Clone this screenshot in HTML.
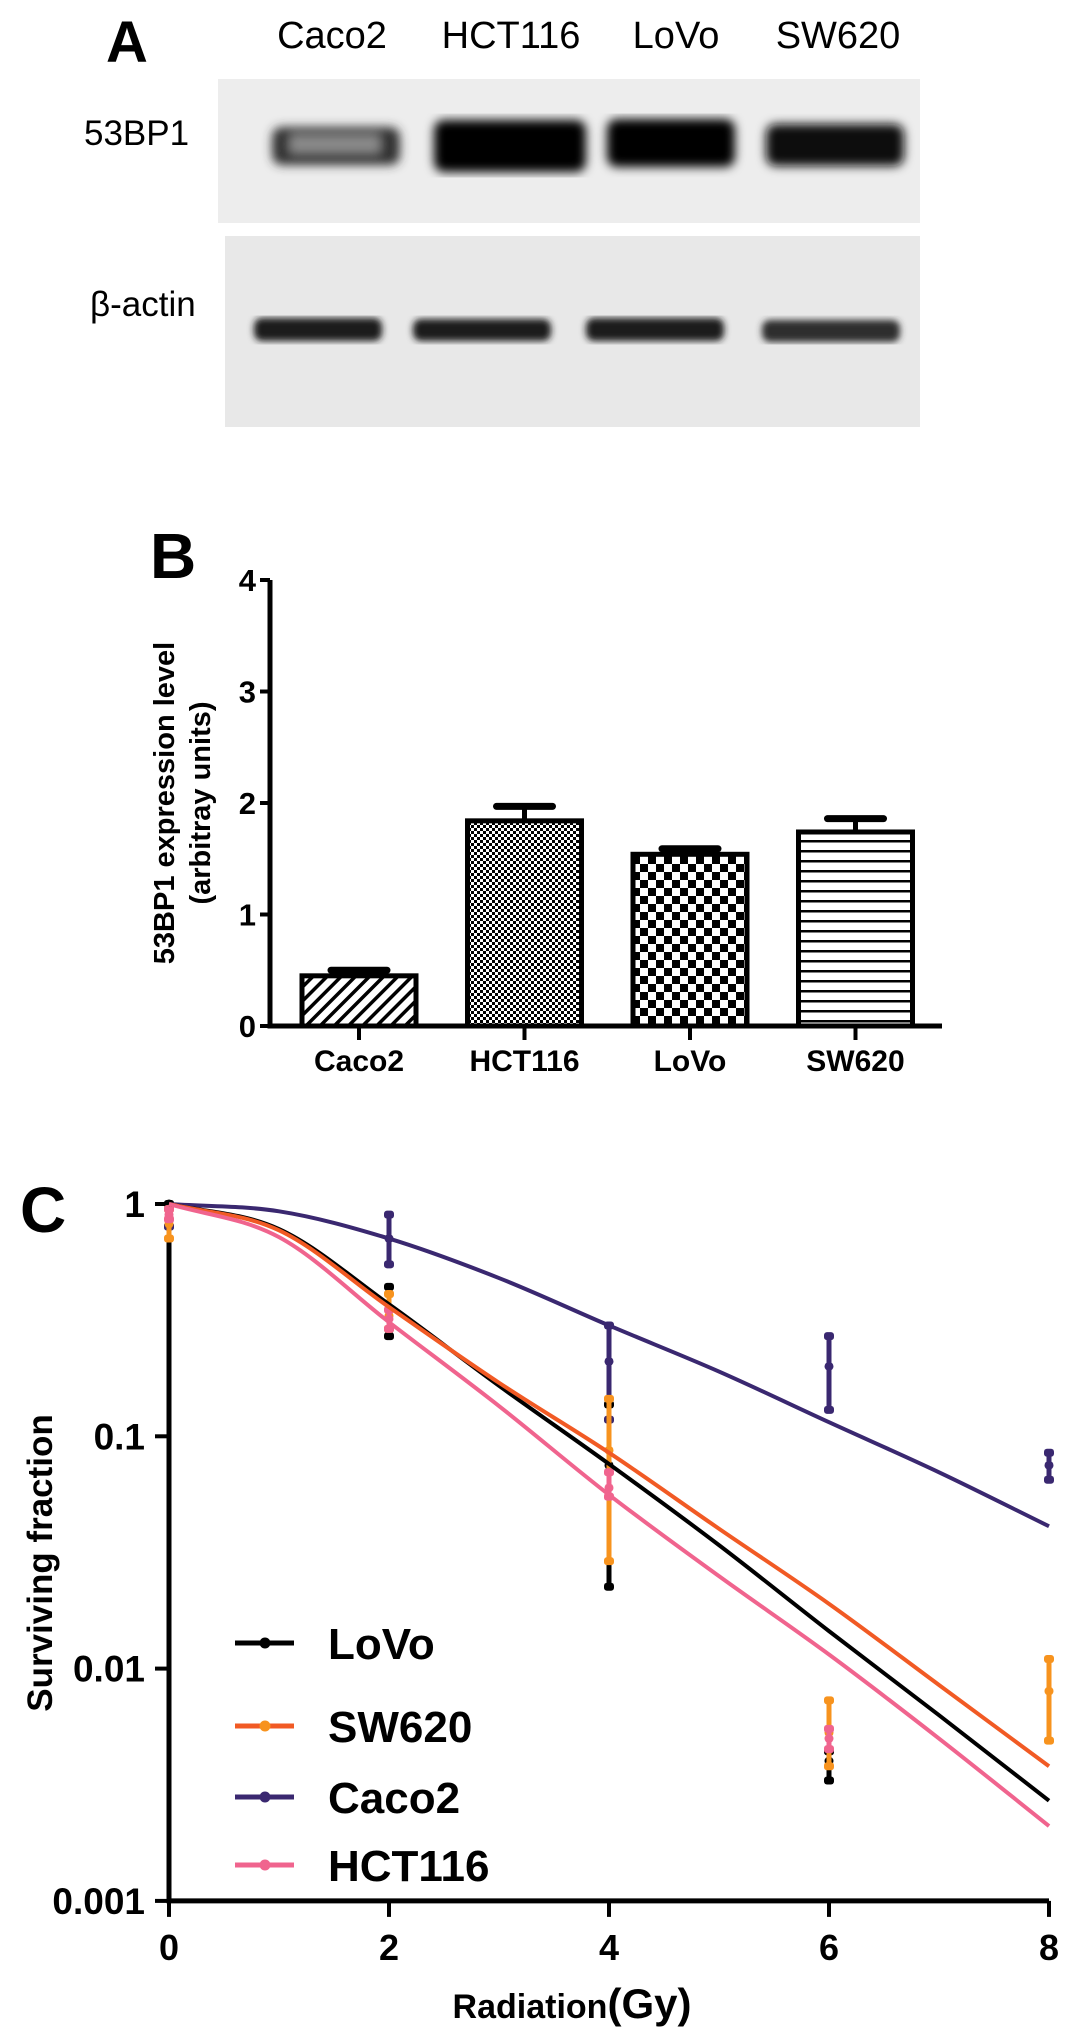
<!DOCTYPE html>
<html><head><meta charset="utf-8"><style>
html,body{margin:0;padding:0;background:#fff;}
svg{display:block;font-family:"Liberation Sans",Arial,sans-serif;}
</style></head><body>
<svg id="fig" width="1084" height="2034" viewBox="0 0 1084 2034">
<defs>
<filter id="blur4"><feGaussianBlur stdDeviation="5"/></filter>
<filter id="blur3"><feGaussianBlur stdDeviation="3.5"/></filter>
<pattern id="pDiag" width="10" height="10" patternUnits="userSpaceOnUse" patternTransform="rotate(45)"><rect width="10" height="10" fill="#fff"/><rect width="3.5" height="10" fill="#000"/></pattern>
<pattern id="pFine" width="6" height="6" patternUnits="userSpaceOnUse"><rect width="6" height="6" fill="#fff"/><rect width="3" height="3" fill="#000"/><rect x="3" y="3" width="3" height="3" fill="#000"/></pattern>
<pattern id="pCheck" width="16" height="16" patternUnits="userSpaceOnUse"><rect width="16" height="16" fill="#fff"/><rect width="8" height="8" fill="#000"/><rect x="8" y="8" width="8" height="8" fill="#000"/></pattern>
<pattern id="pHoriz" width="10" height="10" patternUnits="userSpaceOnUse"><rect width="10" height="10" fill="#fff"/><rect width="10" height="2.5" fill="#000"/></pattern>
</defs>

<!-- Panel A -->
<g>
<text x="106" y="62" font-size="58" font-weight="bold">A</text>
<g font-size="38">
<text x="332" y="48" text-anchor="middle">Caco2</text>
<text x="511" y="48" text-anchor="middle">HCT116</text>
<text x="676" y="48" text-anchor="middle">LoVo</text>
<text x="838" y="48" text-anchor="middle">SW620</text>
</g>
<text x="84" y="145" font-size="35">53BP1</text>
<text x="90" y="316" font-size="35">β-actin</text>
<rect x="218" y="79" width="702" height="144" fill="#ededed"/>
<g filter="url(#blur4)">
<rect x="272" y="127" width="128" height="38" rx="10" fill="#333"/>
<rect x="290" y="135" width="90" height="18" fill="#8a8a8a"/>
<rect x="434" y="120" width="152" height="52" rx="10" fill="#050505"/>
<rect x="607" y="119" width="128" height="48" rx="10" fill="#050505"/>
<rect x="766" y="124" width="138" height="42" rx="10" fill="#0a0a0a"/>
</g>
<rect x="225" y="236" width="695" height="191" fill="#e8e8e8"/>
<g filter="url(#blur3)">
<rect x="254" y="318" width="128" height="23" rx="8" fill="#1a1a1a"/>
<rect x="413" y="319" width="138" height="22" rx="8" fill="#1f1f1f"/>
<rect x="586" y="318" width="138" height="23" rx="8" fill="#1a1a1a"/>
<rect x="762" y="320" width="138" height="22" rx="8" fill="#2e2e2e"/>
</g>
</g>

<g id="panelB"></g>
<g id="panelC"></g>
</svg>
<script>
// ===== Panel B data =====
const barCategories = ["Caco2","HCT116","LoVo","SW620"];
const barValues = [0.45, 1.84, 1.54, 1.74];
const barErrors = [0.05, 0.13, 0.05, 0.12];
const barYTicks = [0,1,2,3,4];

// ===== Panel C data =====
const doseTicks = [0,2,4,6,8];
const sfTicks = [1,0.1,0.01,0.001];
const sfTickLabels = ["1","0.1","0.01","0.001"];
const seriesNames = ["LoVo","SW620","Caco2","HCT116"];
const fitDoses = [0,1,2,3,4,5,6,7,8];
const fitLoVo   = [1,0.78,0.37,0.165,0.076,0.034,0.0145,0.0063,0.0027];
const fitSW620  = [1,0.77,0.36,0.17,0.085,0.040,0.019,0.0085,0.0038];
const fitCaco2  = [1,0.93,0.71,0.48,0.30,0.19,0.115,0.07,0.041];
const fitHCT116 = [1,0.72,0.31,0.135,0.056,0.025,0.0115,0.005,0.0021];
// measured points: dose, mean, low, high
const ptDoseLoVo = [0,2,4,6];   const ptMeanLoVo = [1,0.35,0.075,0.004];  const ptLowLoVo = [1,0.27,0.0225,0.0033]; const ptHighLoVo = [1,0.44,0.137,0.0044];
const ptDoseSW620 = [0,2,4,6,8]; const ptMeanSW620 = [0.82,0.33,0.087,0.0053,0.008]; const ptLowSW620 = [0.71,0.29,0.029,0.0038,0.0049]; const ptHighSW620 = [0.95,0.41,0.145,0.0073,0.011];
const ptDoseCaco2 = [0,2,4,6,8]; const ptMeanCaco2 = [0.8,0.71,0.21,0.20,0.075]; const ptLowCaco2 = [0.8,0.55,0.118,0.13,0.065]; const ptHighCaco2 = [0.8,0.90,0.30,0.27,0.085];
const ptDoseHCT116 = [0,2,4,6]; const ptMeanHCT116 = [0.9,0.32,0.06,0.005]; const ptLowHCT116 = [0.86,0.29,0.055,0.0045]; const ptHighHCT116 = [0.95,0.35,0.07,0.0055];

const NS="http://www.w3.org/2000/svg";
function mk(tag, attrs, parent){const e=document.createElementNS(NS,tag);for(const k in attrs)e.setAttribute(k,attrs[k]);parent.appendChild(e);return e;}

// ---------- Panel B ----------
(function(){
const g=document.getElementById('panelB');
const x0=270, xEnd=942, y0=1026, pxPerUnit=111.5;
const yB=v=>y0-v*pxPerUnit;
const barW=114, step=165.5, firstCenter=359;
const xB=i=>firstCenter+i*step;
const fills=["url(#pDiag)","url(#pFine)","url(#pCheck)","url(#pHoriz)"];
let t=mk('text',{x:150,y:578,'font-size':64,'font-weight':'bold'},g);t.textContent='B';


const yt=mk('text',{transform:'translate(174,803) rotate(-90)','text-anchor':'middle','font-size':29,'font-weight':'bold'},g);
yt.textContent='53BP1 expression level';


const yt2=mk('text',{transform:'translate(210,803) rotate(-90)','text-anchor':'middle','font-size':29,'font-weight':'bold'},g);
yt2.textContent='(arbitray units)';


barValues.forEach((v,i)=>{
  const cx=xB(i);
  const top=yB(v), errTop=yB(v+barErrors[i]);
  const el=mk('line',{x1:cx,y1:top,x2:cx,y2:errTop,stroke:'#000','stroke-width':5},g);
  
  
  const cap=mk('line',{x1:cx-28,y1:errTop,x2:cx+28,y2:errTop,stroke:'#000','stroke-width':7,'stroke-linecap':'round'},g);
  
  
  const r=mk('rect',{x:cx-barW/2,y:top,width:barW,height:y0-top,fill:fills[i],stroke:'#000','stroke-width':5},g);
  
  
  mk('line',{x1:cx,y1:y0,x2:cx,y2:y0+14,stroke:'#000','stroke-width':4},g);
  const lb=mk('text',{x:cx,y:1071,'text-anchor':'middle','font-size':30,'font-weight':'bold'},g);
  lb.textContent=barCategories[i];
  
  
});
const ax=mk('path',{d:`M${x0},${yB(4)} V${y0} H${xEnd}`,fill:'none',stroke:'#000','stroke-width':5},g);


barYTicks.forEach(v=>{
  mk('line',{x1:x0-10,y1:yB(v),x2:x0,y2:yB(v),stroke:'#000','stroke-width':4},g);
  const tl=mk('text',{x:x0-14,y:yB(v)+11,'text-anchor':'end','font-size':31,'font-weight':'bold'},g);
  tl.textContent=String(v);
  
  
});
})();

// ---------- Panel C ----------
(function(){
const g=document.getElementById('panelC');
const xL=169, pxPerGy=110, yTop=1204, pxPerDec=232.3;
const xS=d=>xL+d*pxPerGy;
const yS=v=>yTop-Math.log10(v)*pxPerDec;
const colors={LoVo:'#000000',SW620:'#f15a24',Caco2:'#3a2870',HCT116:'#f0648e'};
const errColors={LoVo:'#000000',SW620:'#f7931e',Caco2:'#3a2870',HCT116:'#f0648e'};
let t=mk('text',{x:20,y:1232,'font-size':64,'font-weight':'bold'},g);t.textContent='C';


const yt=mk('text',{transform:'translate(52,1563) rotate(-90)','text-anchor':'middle','font-size':35,'font-weight':'bold'},g);
yt.textContent='Surviving fraction';


const xt=mk('text',{x:572,y:2018,'text-anchor':'middle','font-size':34,'font-weight':'bold'},g);
xt.innerHTML='Radiation<tspan font-size="42">(Gy)</tspan>';


const ax=mk('path',{d:`M${xS(0)},${yS(1)} V${yS(0.001)} H${xS(8)}`,fill:'none',stroke:'#000','stroke-width':5},g);


doseTicks.forEach(d=>{
  mk('line',{x1:xS(d),y1:yS(0.001),x2:xS(d),y2:yS(0.001)+16,stroke:'#000','stroke-width':4},g);
  const tl=mk('text',{x:xS(d),y:1960,'text-anchor':'middle','font-size':36,'font-weight':'bold'},g);
  tl.textContent=String(d);
  
  
});
sfTicks.forEach((v,i)=>{
  mk('line',{x1:xS(0)-14,y1:yS(v),x2:xS(0),y2:yS(v),stroke:'#000','stroke-width':4},g);
  const tl=mk('text',{x:xS(0)-24,y:yS(v)+13,'text-anchor':'end','font-size':37,'font-weight':'bold'},g);
  tl.textContent=sfTickLabels[i];
  
  
});
const fits={LoVo:fitLoVo,SW620:fitSW620,Caco2:fitCaco2,HCT116:fitHCT116};
const pts={
 LoVo:[ptDoseLoVo,ptMeanLoVo,ptLowLoVo,ptHighLoVo],
 SW620:[ptDoseSW620,ptMeanSW620,ptLowSW620,ptHighSW620],
 Caco2:[ptDoseCaco2,ptMeanCaco2,ptLowCaco2,ptHighCaco2],
 HCT116:[ptDoseHCT116,ptMeanHCT116,ptLowHCT116,ptHighHCT116]};
// monotone cubic (Fritsch-Carlson) in screen space
function curvePath(vals){
  const X=fitDoses.map(xS), Y=vals.map(yS), n=X.length;
  const dl=[],m=[];
  for(let i=0;i<n-1;i++) dl.push((Y[i+1]-Y[i])/(X[i+1]-X[i]));
  m[0]=dl[0]; m[n-1]=dl[n-2];
  for(let i=1;i<n-1;i++) m[i]=(dl[i-1]*dl[i]<=0)?0:(dl[i-1]+dl[i])/2;
  for(let i=0;i<n-1;i++){
    if(dl[i]===0){m[i]=0;m[i+1]=0;continue;}
    const a=m[i]/dl[i], b=m[i+1]/dl[i], s=a*a+b*b;
    if(s>9){const tt=3/Math.sqrt(s);m[i]=tt*a*dl[i];m[i+1]=tt*b*dl[i];}
  }
  let d=`M${X[0]},${Y[0]}`;
  for(let i=0;i<n-1;i++){
    const h=(X[i+1]-X[i])/3;
    d+=` C${X[i]+h},${Y[i]+m[i]*h} ${X[i+1]-h},${Y[i+1]-m[i+1]*h} ${X[i+1]},${Y[i+1]}`;
  }
  return d;
}
const order=["Caco2","LoVo","SW620","HCT116"];
order.forEach(n=>{
  const [ds,ms,lo,hi]=pts[n];
  ds.forEach((d,i)=>{
    const x=xS(d);
    const eb=mk('line',{x1:x,y1:yS(hi[i]),x2:x,y2:yS(lo[i]),stroke:errColors[n],'stroke-width':5},g);
    
    
    [hi[i],lo[i]].forEach(v=>{mk('rect',{x:x-5,y:yS(v)-4,width:10,height:8,rx:3,fill:errColors[n]},g);});
    const pt=mk('circle',{cx:x,cy:yS(ms[i]),r:4.5,fill:errColors[n]},g);
    
    
  });
});
order.forEach(n=>{
  const c=mk('path',{d:curvePath(fits[n]),fill:'none',stroke:colors[n],'stroke-width':4},g);
  
  
});
const legY=[1643,1726,1797,1865];
seriesNames.forEach((n,i)=>{
  const lg=mk('g',{},g);
  
  
  mk('line',{x1:235,y1:legY[i],x2:294,y2:legY[i],stroke:colors[n],'stroke-width':5},lg);
  mk('circle',{cx:265,cy:legY[i],r:5.5,fill:errColors[n]},lg);
  const tx=mk('text',{x:328,y:legY[i]+16,'font-size':44,'font-weight':'bold'},lg);
  tx.textContent=n;
});
})();
</script>
</body></html>
